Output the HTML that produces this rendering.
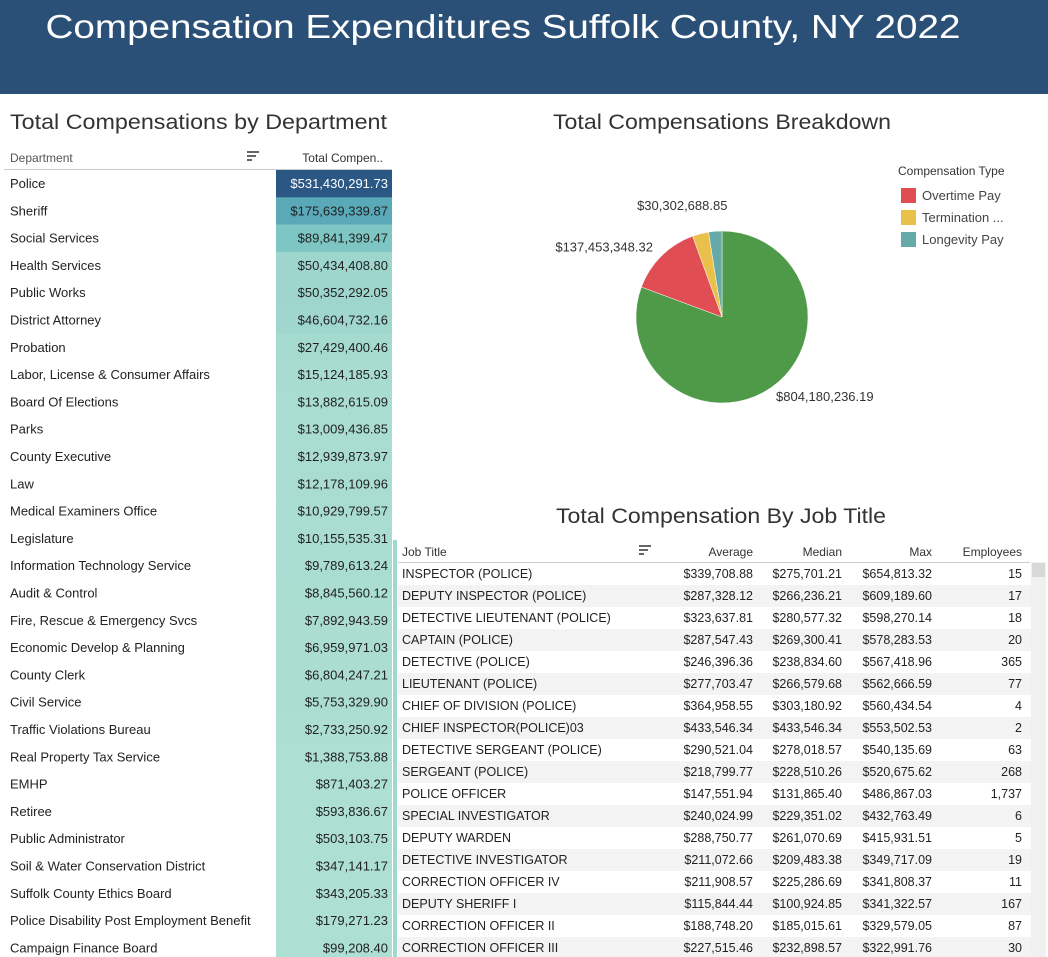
<!DOCTYPE html>
<html><head><meta charset="utf-8"><style>
html,body{margin:0;padding:0;background:#fff;}
svg{display:block;font-family:"Liberation Sans",sans-serif;}
</style></head><body>
<svg id="s" width="1048" height="957" viewBox="0 0 1048 957" xmlns="http://www.w3.org/2000/svg">
<rect x="0" y="0" width="1048" height="94" fill="#2a5078"/>
<text x="503" y="38" text-anchor="middle" fill="#fff" font-size="33" textLength="915" lengthAdjust="spacingAndGlyphs">Compensation Expenditures Suffolk County, NY 2022</text>

<text x="10" y="129" font-size="21" fill="#333" textLength="377" lengthAdjust="spacingAndGlyphs">Total Compensations by Department</text>
<text x="10" y="162" font-size="12" fill="#555">Department</text>
<g fill="#666"><rect x="247" y="151" width="12" height="2"/><rect x="247" y="155" width="9" height="2"/><rect x="247" y="159" width="5" height="2"/></g>
<text x="383" y="162" font-size="12" fill="#333" text-anchor="end">Total Compen..</text>
<line x1="4" y1="169.5" x2="392" y2="169.5" stroke="#ccc"/>
<g id="deptRows"></g>

<text x="722" y="129" font-size="21" fill="#333" text-anchor="middle" textLength="338" lengthAdjust="spacingAndGlyphs">Total Compensations Breakdown</text>
<g id="pie"></g>
<text x="898" y="175" font-size="12" fill="#333">Compensation Type</text>
<g id="legend"></g>

<text x="721" y="523" font-size="21" fill="#333" text-anchor="middle" textLength="330" lengthAdjust="spacingAndGlyphs">Total Compensation By Job Title</text>
<rect x="393" y="540" width="4" height="417" fill="#9fd9cc"/>
<text x="402" y="556" font-size="12" fill="#333">Job Title</text>
<g fill="#666"><rect x="639" y="545" width="12" height="2"/><rect x="639" y="549" width="9" height="2"/><rect x="639" y="553" width="5" height="2"/></g>
<text x="753" y="556" font-size="12" fill="#333" text-anchor="end">Average</text>
<text x="842" y="556" font-size="12" fill="#333" text-anchor="end">Median</text>
<text x="932" y="556" font-size="12" fill="#333" text-anchor="end">Max</text>
<text x="1022" y="556" font-size="12" fill="#333" text-anchor="end">Employees</text>
<line x1="398" y1="562.5" x2="1030" y2="562.5" stroke="#ccc"/>
<g id="jobRows"></g>
<rect x="1031" y="562" width="15" height="395" fill="#f0f0f0"/>
<rect x="1032" y="563" width="13" height="14" fill="#d8d8d8"/>
</svg>
<script>
const deptNames = ["Police","Sheriff","Social Services","Health Services","Public Works","District Attorney","Probation","Labor, License & Consumer Affairs","Board Of Elections","Parks","County Executive","Law","Medical Examiners Office","Legislature","Information Technology Service","Audit & Control","Fire, Rescue & Emergency Svcs","Economic Develop & Planning","County Clerk","Civil Service","Traffic Violations Bureau","Real Property Tax Service","EMHP","Retiree","Public Administrator","Soil & Water Conservation District","Suffolk County Ethics Board","Police Disability Post Employment Benefit","Campaign Finance Board"];
const deptValues = [531430291.73,175639339.87,89841399.47,50434408.80,50352292.05,46604732.16,27429400.46,15124185.93,13882615.09,13009436.85,12939873.97,12178109.96,10929799.57,10155535.31,9789613.24,8845560.12,7892943.59,6959971.03,6804247.21,5753329.90,2733250.92,1388753.88,871403.27,593836.67,503103.75,347141.17,343205.33,179271.23,99208.40];
const pieTypes = ["Base Pay","Overtime Pay","Termination Pay","Longevity Pay"];
const pieValues = [804180236.19,137453348.32,30302688.85,25000000];
const pieLabels = ["$804,180,236.19","$137,453,348.32","$30,302,688.85",""];
const legendTypes = ["Overtime Pay","Termination ...","Longevity Pay"];
const jobTitles = ["INSPECTOR (POLICE)","DEPUTY INSPECTOR (POLICE)","DETECTIVE LIEUTENANT (POLICE)","CAPTAIN (POLICE)","DETECTIVE (POLICE)","LIEUTENANT (POLICE)","CHIEF OF DIVISION (POLICE)","CHIEF INSPECTOR(POLICE)03","DETECTIVE SERGEANT (POLICE)","SERGEANT (POLICE)","POLICE OFFICER","SPECIAL INVESTIGATOR","DEPUTY WARDEN","DETECTIVE INVESTIGATOR","CORRECTION OFFICER IV","DEPUTY SHERIFF I","CORRECTION OFFICER II","CORRECTION OFFICER III"];
const jobAvg = [339708.88,287328.12,323637.81,287547.43,246396.36,277703.47,364958.55,433546.34,290521.04,218799.77,147551.94,240024.99,288750.77,211072.66,211908.57,115844.44,188748.20,227515.46];
const jobMedian = [275701.21,266236.21,280577.32,269300.41,238834.60,266579.68,303180.92,433546.34,278018.57,228510.26,131865.40,229351.02,261070.69,209483.38,225286.69,100924.85,185015.61,232898.57];
const jobMax = [654813.32,609189.60,598270.14,578283.53,567418.96,562666.59,560434.54,553502.53,540135.69,520675.62,486867.03,432763.49,415931.51,349717.09,341808.37,341322.57,329579.05,322991.76];
const jobEmployees = [15,17,18,20,365,77,4,2,63,268,1737,6,5,19,11,167,87,30];

const NS="http://www.w3.org/2000/svg";
function mk(tag, attrs, parent, txt){const e=document.createElementNS(NS,tag);for(const k in attrs)e.setAttribute(k,attrs[k]);if(txt!==undefined)e.textContent=txt;parent.appendChild(e);return e;}
function money(v){return "$"+v.toLocaleString("en-US",{minimumFractionDigits:2,maximumFractionDigits:2});}
function hex(c){return [parseInt(c.substr(1,2),16),parseInt(c.substr(3,2),16),parseInt(c.substr(5,2),16)];}
const stops=[[0,"#addfd2"],[0.1,"#9dd6cd"],[0.17,"#7ec6c4"],[0.33,"#5aa9b9"],[1,"#2a5783"]];
function colorScale(t){for(let i=1;i<stops.length;i++){if(t<=stops[i][0]){const a=hex(stops[i-1][1]),b=hex(stops[i][1]);const f=(t-stops[i-1][0])/(stops[i][0]-stops[i-1][0]);return "rgb("+a.map((x,j)=>Math.round(x+(b[j]-x)*f)).join(",")+")";}}return stops[stops.length-1][1];}

// department table
const dg=document.getElementById("deptRows");
const maxDept=Math.max(...deptValues);
const rowY0=170, rowH=27.3;
deptNames.forEach((n,i)=>{
  const y=rowY0+i*rowH;
  const g=mk("g",{},dg);
  
  
  const r=mk("rect",{x:276,y:y,width:116,height:rowH+0.3,fill:colorScale(deptValues[i]/maxDept)},g);
  
  
  const t1=mk("text",{x:10,y:y+18,"font-size":13,fill:"#222"},g,n);
  
  
  const t2=mk("text",{x:388,y:y+18,"font-size":13,fill:i===0?"#fff":"#222","text-anchor":"end"},g,money(deptValues[i]));
  
  
});

// pie
const pg=document.getElementById("pie");
const cx=722,cy=317,R=86;
const colors={"Base Pay":"#4e9a48","Overtime Pay":"#e04e53","Termination Pay":"#e9c04a","Longevity Pay":"#65aaa8"};
const total=pieValues.reduce((a,b)=>a+b,0);
let ang=0;
pieValues.forEach((v,i)=>{
  const a0=ang, a1=ang+v/total*2*Math.PI; ang=a1;
  const p=(a)=>[cx+R*Math.sin(a),cy-R*Math.cos(a)];
  const [x0,y0]=p(a0),[x1,y1]=p(a1);
  const large=(a1-a0)>Math.PI?1:0;
  const s=mk("path",{d:`M${cx},${cy}L${x0},${y0}A${R},${R} 0 ${large} 1 ${x1},${y1}Z`,fill:colors[pieTypes[i]],stroke:"#fff","stroke-width":0.5},pg);
  
  
  if(pieLabels[i]){
    const mid=(a0+a1)/2;
    const lx=cx+(R+12)*Math.sin(mid), ly=cy-(R+12)*Math.cos(mid);
    let anchor=Math.sin(mid)<0?"end":"start";
    let tx=lx, ty=ly+4;
    if(i===0){tx=cx+54;ty=cy+84;anchor="start";}
    if(i===2){tx=lx+30;ty=ly-12;anchor="end";}
    const t=mk("text",{x:tx,y:ty,"font-size":13,fill:"#333","text-anchor":anchor},pg,pieLabels[i]);
    
    
  }
});
const lg=document.getElementById("legend");
const legColors=["#e04e53","#e9c04a","#65aaa8"];
legendTypes.forEach((n,i)=>{
  const y=188+i*22;
  const g=mk("g",{},lg);
  
  
  mk("rect",{x:901,y:y,width:15,height:15,fill:legColors[i]},g);
  mk("text",{x:922,y:y+12,"font-size":13,fill:"#444"},g,n);
});

// job table
const jg=document.getElementById("jobRows");
const jy0=563, jh=22;
jobTitles.forEach((n,i)=>{
  const y=jy0+i*jh;
  const g=mk("g",{},jg);
  
  
  if(i%2===1) mk("rect",{x:398,y:y,width:633,height:jh,fill:"#f3f3f3"},g);
  const cells=[[402,n,"start"],[753,money(jobAvg[i]),"end"],[842,money(jobMedian[i]),"end"],[932,money(jobMax[i]),"end"],[1022,jobEmployees[i].toLocaleString("en-US"),"end"]];
  cells.forEach(c=>{
    const t=mk("text",{x:c[0],y:y+15,"font-size":12.5,fill:"#222","text-anchor":c[2]},g,c[1]);
    
    
  });
});
</script>
</body></html>
